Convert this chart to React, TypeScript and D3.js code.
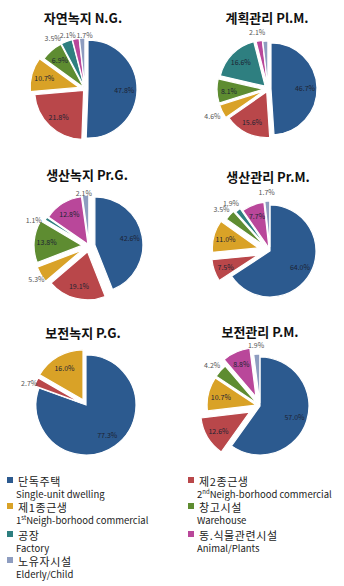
import React, { useEffect, useRef } from 'react';
import * as d3 from 'd3';

// slice order: blue, red, yellow, green, teal, magenta, grey
const categoriesKo = ['단독주택', '제2종근생', '제1종근생', '창고시설', '공장', '동.식물관련시설', '노유자시설'];
const categoriesEn = ['Single-unit dwelling', 'Neigh-borhood commercial', 'Neigh-borhood commercial', 'Warehouse', 'Factory', 'Animal/Plants', 'Elderly/Child'];
const categoriesSup = ['', '2|nd', '1|st', '', '', '', ''];
const colors = ['#2C5A8F', '#B9474A', '#D9A227', '#5E8C31', '#2E7F80', '#B9479A', '#8E9DC0'];

const titles = ['자연녹지 N.G.', '계획관리 Pl.M.', '생산녹지 Pr.G.', '생산관리 Pr.M.', '보전녹지 P.G.', '보전관리 P.M.'];

const valuesNG = [47.8, 21.8, 10.7, 6.9, 3.5, 2.1, 1.7];
const valuesPlM = [46.7, 15.6, 4.6, 8.1, 16.6, 2.1, 1.7];
const valuesPrG = [42.6, 19.1, 5.3, 13.8, 1.1, 12.8, 2.1];
const valuesPrM = [64.0, 7.5, 11.0, 3.5, 1.9, 7.7, 1.7];
const valuesPG = [77.3, 2.7, 16.0, 0, 0, 0, 0];
const valuesPM = [57.0, 12.6, 10.7, 4.2, 0, 8.8, 1.9];

// which slices carry a percentage label
const shownPlM = [true, true, true, true, true, true, false];

const explodeNG = [3, 2, 6, 2, 2, 2, 2];
const explodePlM = [3, 3, 5, 5, 4, 3, 2];
const explodePrG = [6, 6, 8, 7, 3, 2, 3];
const explodePrM = [0, 13, 12, 8, 6, 3, 4];
const explodePG = [0, 5, 6, 0, 0, 0, 0];
const explodePM = [0, 12, 4, 4, 0, 10, 3];

// small hand nudges for crowded outside labels
const nudgeNG: [number, number][] = [[0, 0], [0, 0], [0, 0], [0, 0], [-10, 5], [-6, 5], [3, 6]];
const nudgePrG: [number, number][] = [[0, 0], [0, 0], [5, 0], [0, 0], [-3, 6], [0, 0], [-1, 7]];
const nudgePG: [number, number][] = [[0, 0], [3, 5], [0, 0], [0, 0], [0, 0], [0, 0], [0, 0]];

const font = '"Noto Sans CJK KR", "Noto Sans", sans-serif';

export default function App() {
  const svgRef = useRef<SVGSVGElement>(null);

  useEffect(() => {
    if (!svgRef.current) return;
    const svg = d3.select(svgRef.current);
    svg.selectAll('*').remove();

    const width = 344;
    const height = 586;
    svg.attr('width', width).attr('height', height);
    svg.append('rect').attr('width', width).attr('height', height).attr('fill', '#fff');

    const charts = [
      { values: valuesNG, explode: explodeNG, shown: null, nudge: nudgeNG, cx: 85, cy: 89, r: 49, tx: 83, ty: 17 },
      { values: valuesPlM, explode: explodePlM, shown: shownPlM, nudge: null, cx: 268, cy: 89, r: 46, tx: 267, ty: 17 },
      { values: valuesPrG, explode: explodePrG, shown: null, nudge: nudgePrG, cx: 89, cy: 246, r: 48, tx: 87, ty: 174 },
      { values: valuesPrM, explode: explodePrM, shown: null, nudge: null, cx: 270, cy: 251, r: 46, tx: 268, ty: 176 },
      { values: valuesPG, explode: explodePG, shown: null, nudge: nudgePG, cx: 86, cy: 405, r: 50, tx: 83, ty: 332 },
      { values: valuesPM, explode: explodePM, shown: null, nudge: null, cx: 260, cy: 406, r: 49, tx: 260, ty: 331 },
    ];

    const pie = d3.pie<number>().sort(null).value((d) => d);

    charts.forEach((c, ci) => {
      svg.append('text')
        .attr('x', c.tx)
        .attr('y', c.ty)
        .attr('text-anchor', 'middle')
        .attr('dominant-baseline', 'central')
        .style('font-family', font)
        .style('font-size', '13px')
        .style('font-weight', 'bold')
        .attr('fill', '#111')
        .text(titles[ci]);

      const g = svg.append('g').attr('transform', `translate(${c.cx},${c.cy})`);
      const arc = d3.arc<d3.PieArcDatum<number>>().innerRadius(0).outerRadius(c.r);
      const arcs = pie(c.values);

      const shift = (d: d3.PieArcDatum<number>) => {
        const a = (d.startAngle + d.endAngle) / 2;
        const o = c.explode[d.index];
        return [Math.sin(a) * o, -Math.cos(a) * o];
      };
      const nudge = (d: d3.PieArcDatum<number>) => (c.nudge ? c.nudge[d.index] : [0, 0]);

      g.selectAll('path.slice')
        .data(arcs.filter((d) => d.value > 0))
        .enter().append('path')
        .attr('class', 'slice')
        .attr('d', (d) => arc(d) as string)
        .attr('transform', (d) => `translate(${shift(d)[0]},${shift(d)[1]})`)
        .attr('fill', (d) => colors[d.index])
        .attr('stroke', '#fff')
        .attr('stroke-width', 1.2);

      g.selectAll('text.lbl')
        .data(arcs.filter((d) => d.value > 0 && (!c.shown || c.shown[d.index])))
        .enter().append('text')
        .attr('class', 'lbl')
        .attr('x', (d) => {
          const a = (d.startAngle + d.endAngle) / 2;
          const rr = d.value < 6 ? c.r + 11 : c.r * 0.74;
          return Math.sin(a) * rr + shift(d)[0] + nudge(d)[0];
        })
        .attr('y', (d) => {
          const a = (d.startAngle + d.endAngle) / 2;
          const rr = d.value < 6 ? c.r + 9 : c.r * 0.74;
          return -Math.cos(a) * rr + shift(d)[1] + nudge(d)[1];
        })
        .attr('text-anchor', 'middle')
        .attr('dominant-baseline', 'central')
        .style('font-family', font)
        .style('font-size', '7px')
        .attr('fill', (d) => (d.value < 6 ? '#555' : '#1c2333'))
        .text((d) => `${d.value.toFixed(1)}%`);
    });

    // legend, two columns, row-major in slice order
    const rowsY = [481, 507, 535, 561];
    const colX = [7, 188];
    categoriesKo.forEach((ko, i) => {
      const col = i % 2;
      const row = Math.floor(i / 2);
      const x = colX[col];
      const y = rowsY[row];
      svg.append('rect')
        .attr('x', x)
        .attr('y', y - 4)
        .attr('width', 6)
        .attr('height', 6)
        .attr('fill', colors[i]);
      svg.append('text')
        .attr('x', x + 11)
        .attr('y', y)
        .attr('dominant-baseline', 'central')
        .style('font-family', font)
        .style('font-size', '11px')
        .style('letter-spacing', '0.6px')
        .attr('fill', '#222')
        .text(ko);
      const en = svg.append('text')
        .attr('x', x + 9)
        .attr('y', y + 13)
        .attr('dominant-baseline', 'central')
        .style('font-family', font)
        .style('font-size', '9.5px')
        .attr('fill', '#222');
      if (categoriesSup[i]) {
        const [num, sup] = categoriesSup[i].split('|');
        en.append('tspan').text(num);
        en.append('tspan').attr('dy', -3).style('font-size', '6px').text(sup);
        en.append('tspan').attr('dy', 3).text(categoriesEn[i]);
      } else {
        en.text(categoriesEn[i]);
      }
    });
  }, []);

  return (
    <div style={{ position: 'absolute', left: 0, top: 0 }}>
      <svg ref={svgRef} style={{ display: 'block' }}></svg>
    </div>
  );
}
